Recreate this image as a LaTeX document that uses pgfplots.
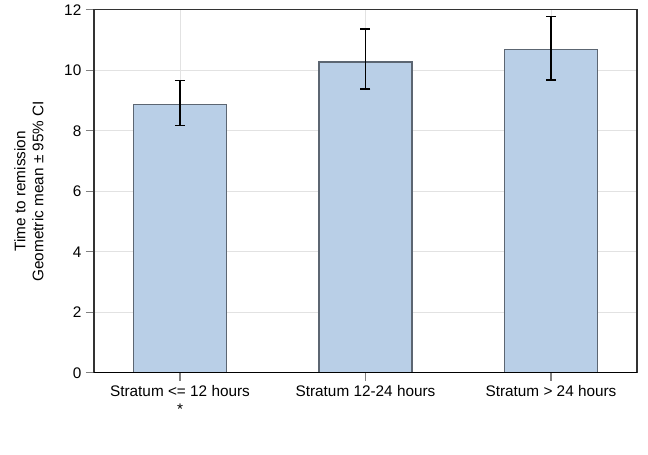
\documentclass[border=0pt]{standalone}
\usepackage{pgfplots}
\pgfplotsset{compat=1.18}
\usepackage{fontspec}
\setmainfont{Liberation Sans}
\definecolor{barfill}{HTML}{B9CFE7}
\definecolor{bardraw}{HTML}{5C6672}
\definecolor{gridgray}{HTML}{E2E2E2}
\definecolor{framegray}{HTML}{333333}

\pgfplotstableread{
x  y      ep    em
0  8.88   0.79  0.70
1  10.27  1.10  0.89
2  10.68  1.09  1.00
}\remission

\begin{document}
\begin{tikzpicture}
\begin{axis}[
    scale only axis,
    width=407.25pt, height=272.25pt,
    ybar,
    xmin=-0.4636, xmax=2.4636,
    ymin=0, ymax=12,
    xtick={0,1,2},
    xticklabels={{Stratum <= 12 hours\\*},{Stratum 12-24 hours},{Stratum > 24 hours}},
    xticklabel style={align=center},
    ytick={0,2,...,12},
    xtick pos=bottom, ytick pos=left,
    /pgf/number format/assume math mode=true,
    grid=major,
    grid style={color=gridgray, line width=0.6pt},
    tick align=outside,
    major tick length=6pt,
    tick style={color=gray, line width=0.8pt},
    axis line style={color=framegray, line width=0.9pt},
    font=\fontsize{11.5}{13.5}\selectfont,
    ylabel={Time to remission\\Geometric mean ± 95\% CI},
    ylabel style={align=center, at={(axis description cs:-0.12,0.5)}, anchor=center},
]
\addplot[fill=barfill, draw=bardraw, line width=1pt, bar width=0.503,
    error bars/.cd, y dir=both, y explicit,
    error bar style={black, line width=1pt},
    error mark options={rotate=90, mark size=3.75pt, line width=1pt, black}]
  table[x=x, y=y, y error plus=ep, y error minus=em] {\remission};
\draw[black, line width=1.8pt] (rel axis cs:0,0) -- (rel axis cs:1,0);
\end{axis}
\path (current axis.south west) ++(-70.5pt,-61.5pt) coordinate (bbA);
\path (current axis.north east) ++(8.25pt,3.75pt) coordinate (bbB);
\useasboundingbox (bbA) rectangle (bbB);
\end{tikzpicture}
\end{document}
